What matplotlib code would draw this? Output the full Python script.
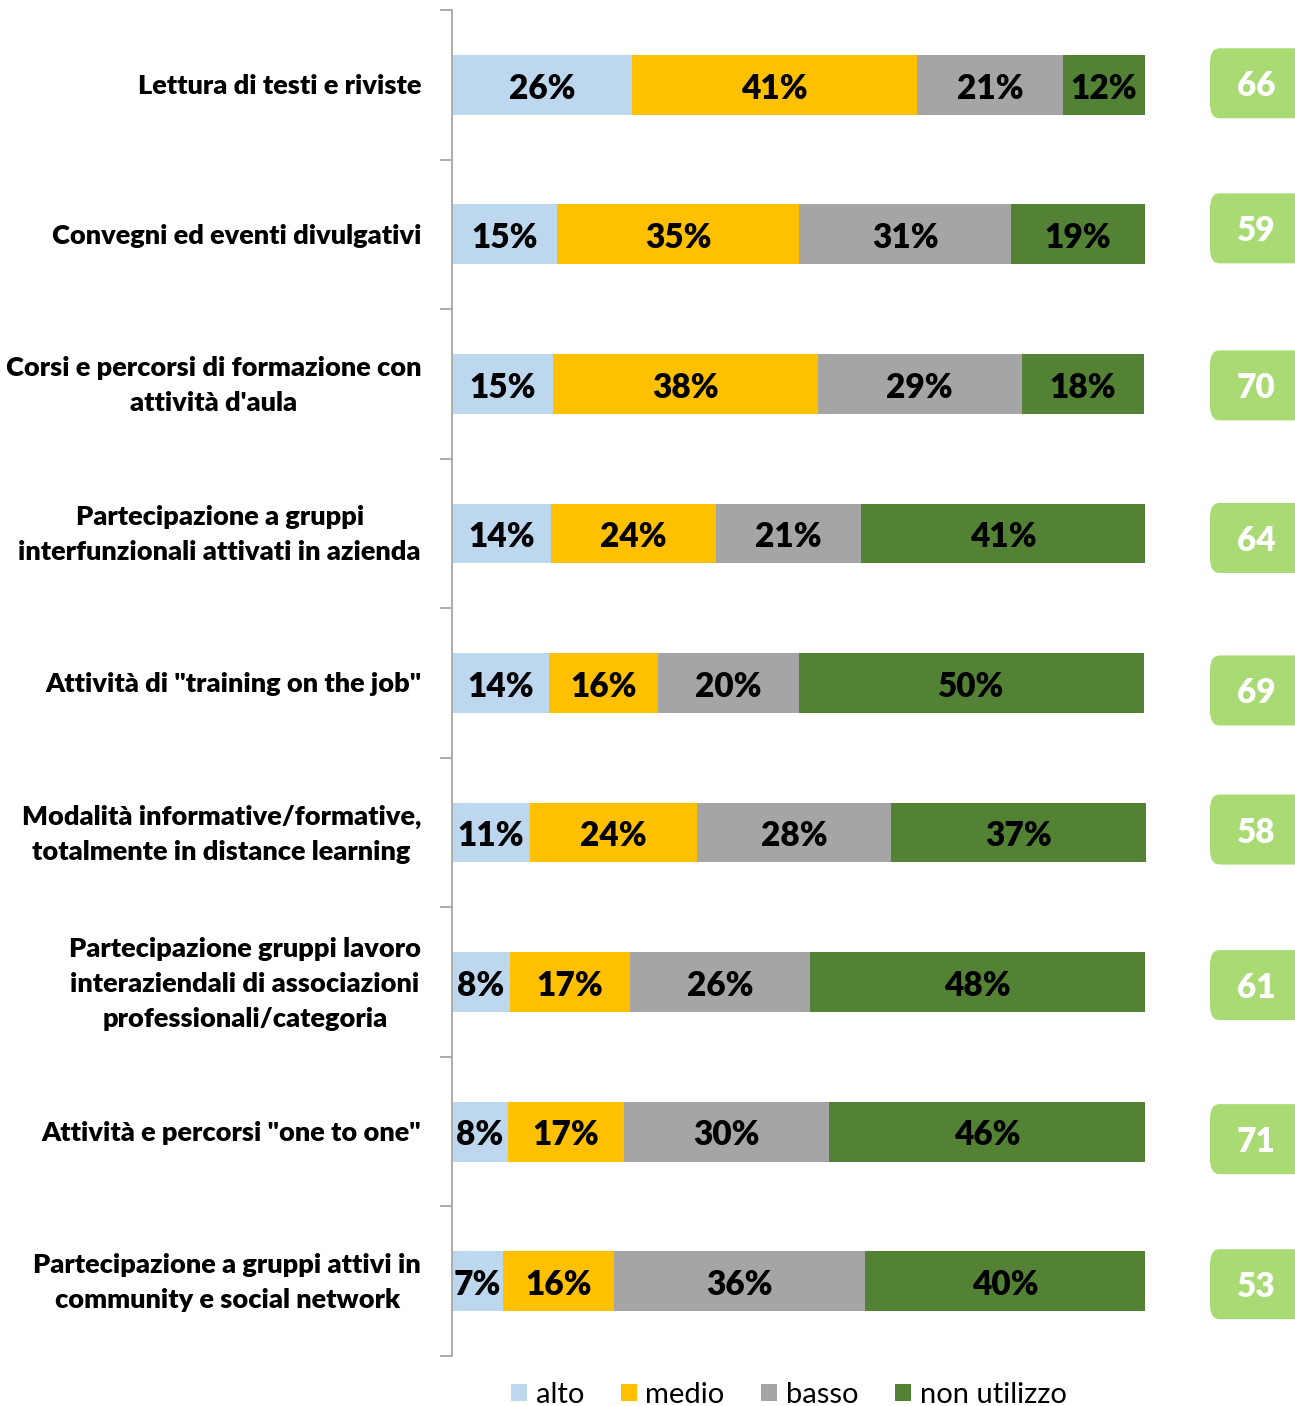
import matplotlib.pyplot as plt
from matplotlib.patches import FancyBboxPatch
import numpy as np

plt.rcParams['font.family'] = ['Lato', 'DejaVu Sans']

categories = [
    "Lettura di testi e riviste",
    "Convegni ed eventi divulgativi",
    "Corsi e percorsi di formazione con\nattività d'aula",
    "Partecipazione a gruppi\ninterfunzionali attivati in azienda",
    "Attività di \"training on the job\"",
    "Modalità informative/formative,\ntotalmente in distance learning",
    "Partecipazione gruppi lavoro\ninteraziendali di associazioni\nprofessionali/categoria",
    "Attività e percorsi \"one to one\"",
    "Partecipazione a gruppi attivi in\ncommunity e social network",
]
alto = [26.0, 15.2, 14.6, 14.3, 14.0, 11.3, 8.4, 8.1, 7.4]
medio = [41.1, 34.9, 38.2, 23.8, 15.7, 24.0, 17.3, 16.7, 16.0]
basso = [21.1, 30.6, 29.4, 20.9, 20.3, 28.1, 26.0, 29.6, 36.2]
non_utilizzo = [11.8, 19.3, 17.7, 41.0, 49.9, 36.7, 48.3, 45.6, 40.4]
scores = [66, 59, 70, 64, 69, 58, 61, 71, 53]

series = [("alto", alto, "#BDD7EE"), ("medio", medio, "#FFC000"),
          ("basso", basso, "#A5A5A5"), ("non utilizzo", non_utilizzo, "#548235")]

# small vertical shifts of the score boxes seen in the original
score_shift = [-0.01, -0.04, 0.01, 0.03, 0.05, -0.02, 0.02, 0.05, 0.02]

W, H = 1295, 1406
fig = plt.figure(figsize=(W / 100, H / 100), dpi=100)
ax = fig.add_axes([452 / W, 1 - 1356 / H, 1 - 452 / W, (1356 - 10) / H])

y = np.arange(len(categories))
left = np.zeros(len(categories))
for name, vals, col in series:
    vals = np.array(vals)
    ax.barh(y, vals, left=left, height=0.4, color=col, label=name)
    for yi, l, v in zip(y, left, vals):
        ax.text(l + v / 2, yi + 0.025, f"{round(v)}%", ha='center', va='center',
                fontsize=24, fontweight='heavy', color='black')
    left += vals

xmax = (W - 452) / 6.93
ax.set_xlim(0, xmax)
ax.set_ylim(len(categories) - 0.5, -0.5)

bx = (1210 - 452) / 6.93
for yi, s, sh in zip(y, scores, score_shift):
    cy = yi + sh
    box = FancyBboxPatch((bx, cy - 0.234), 20, 0.468,
                         boxstyle="round,pad=0,rounding_size=1.4",
                         mutation_aspect=0.07, fc="#A9DA74", ec='none')
    ax.add_patch(box)
    ax.text(bx + 46 / 6.93, cy + 0.02, str(s), ha='center', va='center',
            fontsize=24, fontweight='heavy', color='white')

for sp in ['top', 'right', 'bottom']:
    ax.spines[sp].set_visible(False)
ax.spines['left'].set_color('#A6A6A6')
ax.spines['left'].set_linewidth(1.3)
ax.set_xticks([])
ax.set_yticks([])
ax.set_yticks(np.arange(-0.5, len(categories)), minor=True)
ax.tick_params(axis='y', which='minor', length=9, width=1.3, color='#A6A6A6',
               labelleft=False)

for yi, c in zip(y, categories):
    ax.text(-31 / 6.93, yi + 0.01, c, ha='right', va='center', multialignment='center',
            fontsize=19.5, fontweight='heavy', linespacing=1.55)

fig.legend(loc='center', bbox_to_anchor=(0.609, 1 - 1395 / H), ncol=4,
           frameon=False, fontsize=21, handlelength=0.55, handleheight=0.55,
           handletextpad=0.3, columnspacing=1.25)

fig.savefig("out.png", dpi=100)
